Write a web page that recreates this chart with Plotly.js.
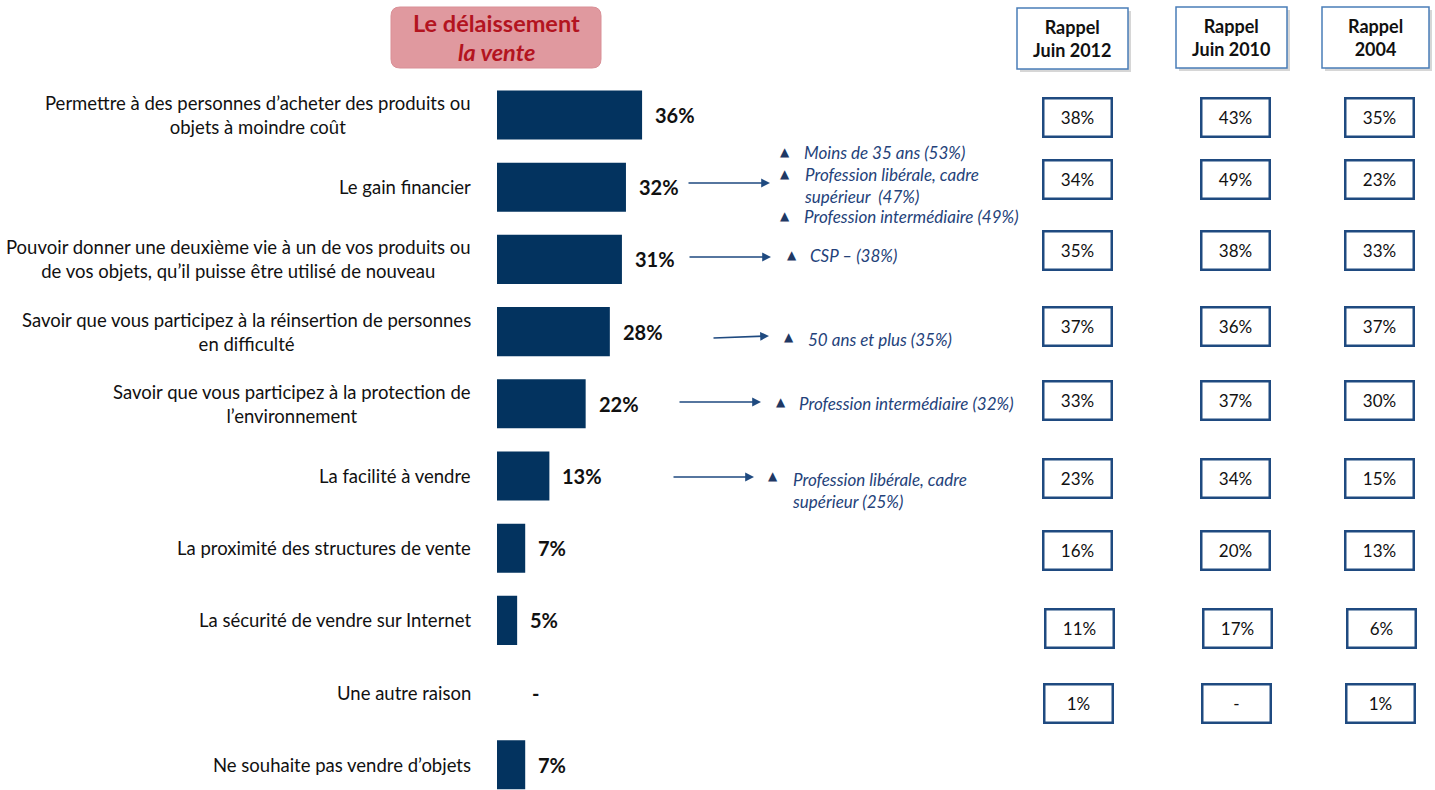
<!DOCTYPE html>
<html><head><meta charset="utf-8">
<script src="https://cdn.plot.ly/plotly-3.0.1.min.js"></script>
<style>html,body{margin:0;padding:0;background:#fff}#chart{width:1435px;height:790px}</style>
</head><body><div id="chart"></div>
<script>
// ---------- DATA ----------
const categories = [
  "Permettre à des personnes d’acheter des produits ou<br>objets à moindre coût",
  "Le gain financier",
  "Pouvoir donner une deuxième vie à un de vos produits ou<br>de vos objets, qu’il puisse être utilisé de nouveau",
  "Savoir que vous participez à la réinsertion de personnes<br>en difficulté",
  "Savoir que vous participez à la protection de<br>l’environnement",
  "La facilité à vendre",
  "La proximité des structures de vente",
  "La sécurité de vendre sur Internet",
  "Une autre raison",
  "Ne souhaite pas vendre d’objets"
];
const values = [36, 32, 31, 28, 22, 13, 7, 5, null, 7];
const valueLabels = ["36%", "32%", "31%", "28%", "22%", "13%", "7%", "5%", "-", "7%"];
const rappelHeaders = ["Rappel<br>Juin 2012", "Rappel<br>Juin 2010", "Rappel<br>2004"];
const rappel2012 = ["38%", "34%", "35%", "37%", "33%", "23%", "16%", "11%", "1%"];
const rappel2010 = ["43%", "49%", "38%", "36%", "37%", "34%", "20%", "17%", "-"];
const rappel2004 = ["35%", "23%", "33%", "37%", "30%", "15%", "13%", "6%", "1%"];
const titleLines = ["Le délaissement", "la vente"];
const noteRows = [1, 2, 3, 4, 5];
const noteTexts = [
  ["Moins de 35 ans (53%)", "Profession libérale, cadre<br>supérieur  (47%)", "Profession intermédiaire (49%)"],
  ["CSP – (38%)"],
  ["50 ans et plus (35%)"],
  ["Profession intermédiaire (32%)"],
  ["Profession libérale, cadre<br>supérieur (25%)"]
];

// ---------- LAYOUT HELPERS ----------
const W = 1435, H = 790;
const px = x => x / W;
const py = y => 1 - y / H;
const FONT = 'Lato, "Open Sans", sans-serif';
const NAVY = '#03335F';
const NOTE = '#24427A';

const annotations = [];
const shapes = [];

// category labels
categories.forEach((c, i) => {
  annotations.push({xref: 'paper', x: px(473), yref: 'y', y: c, text: c, showarrow: false,
    xanchor: 'right', yanchor: 'middle', align: 'center', font: {family: FONT, size: 18.5, color: '#111'}});
});
// value labels
values.forEach((v, i) => {
  annotations.push({xref: 'x', x: v === null ? 0 : v, yref: 'y', y: categories[i],
    text: '<b>' + valueLabels[i] + '</b>', showarrow: false, xanchor: 'left', yanchor: 'middle',
    xshift: v === null ? 33 : 11, font: {family: FONT, size: 20, color: '#111'}});
});

// title box
function rrect(x0, y0, x1, y1, r) {
  const X = px, Y = py;
  return `M${X(x0 + r)},${Y(y0)} L${X(x1 - r)},${Y(y0)} Q${X(x1)},${Y(y0)} ${X(x1)},${Y(y0 + r)} ` +
    `L${X(x1)},${Y(y1 - r)} Q${X(x1)},${Y(y1)} ${X(x1 - r)},${Y(y1)} L${X(x0 + r)},${Y(y1)} ` +
    `Q${X(x0)},${Y(y1)} ${X(x0)},${Y(y1 - r)} L${X(x0)},${Y(y0 + r)} Q${X(x0)},${Y(y0)} ${X(x0 + r)},${Y(y0)} Z`;
}
shapes.push({type: 'path', xref: 'paper', yref: 'paper', path: rrect(391, 7, 601, 68, 9),
  fillcolor: '#E0999F', line: {color: '#D98F96', width: 1}});
annotations.push({xref: 'paper', yref: 'paper', x: px(497), y: py(23), xanchor: 'center', yanchor: 'middle',
  text: '<b>' + titleLines[0] + '</b>', showarrow: false, font: {family: FONT, size: 23.5, color: '#B3141F'}});
annotations.push({xref: 'paper', yref: 'paper', x: px(497), y: py(52), xanchor: 'center', yanchor: 'middle',
  text: '<b><i>' + titleLines[1] + '</i></b>', showarrow: false, font: {family: FONT, size: 23.5, color: '#B3141F'}});

// rappel header boxes
const headBoxes = [[1017, 8, 1128, 69], [1176, 7, 1287, 68], [1322, 7, 1429, 68]];
headBoxes.forEach((b, k) => {
  shapes.push({type: 'rect', xref: 'paper', yref: 'paper', x0: px(b[0] + 3), x1: px(b[2] + 3), y0: py(b[1] + 3), y1: py(b[3] + 3),
    fillcolor: 'rgba(0,0,0,0.16)', line: {width: 0}});
  shapes.push({type: 'rect', xref: 'paper', yref: 'paper', x0: px(b[0]), x1: px(b[2]), y0: py(b[1]), y1: py(b[3]),
    fillcolor: '#fff', line: {color: '#4A7DB8', width: 1.5}});
  annotations.push({xref: 'paper', yref: 'paper', x: px((b[0] + b[2]) / 2), y: py((b[1] + b[3]) / 2),
    xanchor: 'center', yanchor: 'middle',
    text: '<b>' + rappelHeaders[k] + '</b>', showarrow: false, font: {family: FONT, size: 18, color: '#111'}});
});

// rappel value boxes
const colX = [1077, 1235, 1379];
const boxY = [117, 179, 250, 326, 400, 478, 550, 628, 703];
const boxXShift = [0, 0, 0, 0, 0, 0, 0, 2, 1];
[rappel2012, rappel2010, rappel2004].forEach((arr, k) => {
  arr.forEach((t, i) => {
    annotations.push({xref: 'paper', yref: 'paper', x: px(colX[k] + boxXShift[i]), y: py(boxY[i]), text: t,
      xanchor: 'center', yanchor: 'middle',
      showarrow: false, width: 64, height: 34, borderpad: 1, borderwidth: 2.5,
      bordercolor: '#1F4A80', bgcolor: '#fff', font: {family: FONT, size: 17, color: '#111'}});
  });
});

// arrows
const arrows = [[687, 183, 770, 183], [688, 257, 771, 257], [712, 338, 769, 336], [678, 402, 761, 402], [672, 477, 754, 477]];
arrows.forEach(a => {
  annotations.push({xref: 'paper', yref: 'paper', x: px(a[2]), y: py(a[3]), ax: a[0] - a[2], ay: a[1] - a[3],
    text: '', showarrow: true, arrowhead: 2, arrowsize: 1.1, arrowwidth: 1.6, arrowcolor: '#1F4A80', standoff: 0});
});

// notes (triangle x, text x, list of [triangle y, text center y])
const notePos = [
  {tx: 785, x: 802, ys: [[152, 152], [174, 185], [216, 216]]},
  {tx: 792, x: 808, ys: [[255, 256]]},
  {tx: 789, x: 806, ys: [[337, 339]]},
  {tx: 781, x: 797, ys: [[402, 404]]},
  {tx: 773, x: 790, ys: [[476, 490]]}
];
noteRows.forEach((r, n) => {
  noteTexts[n].forEach((t, j) => {
    const p = notePos[n];
    annotations.push({xref: 'paper', yref: 'paper', x: px(p.tx), y: py(p.ys[j][0]), text: '▲', showarrow: false,
      xanchor: 'center', yanchor: 'middle',
      font: {family: 'DejaVu Sans', size: 12, color: '#1F3864'}});
    annotations.push({xref: 'paper', yref: 'paper', x: px(p.x), y: py(p.ys[j][1]), text: '<i>' + t + '</i>',
      showarrow: false, xanchor: 'left', yanchor: 'middle', align: 'left', font: {family: FONT, size: 17, color: NOTE}});
  });
});

const trace = {
  type: 'bar', orientation: 'h', x: values, y: categories,
  marker: {color: NAVY, line: {width: 0}}, hoverinfo: 'skip'
};

const layout = {
  width: W, height: H, margin: {l: 0, r: 0, t: 0, b: 0},
  paper_bgcolor: '#fff', plot_bgcolor: 'rgba(0,0,0,0)',
  showlegend: false, bargap: 0.32,
  xaxis: {domain: [px(497), px(900)], range: [0, 100], visible: false, fixedrange: true},
  yaxis: {domain: [0, py(78.9)], type: 'category', range: [9.349, -0.5], visible: false, fixedrange: true},
  annotations: annotations, shapes: shapes
};

Plotly.newPlot('chart', [trace], layout, {displayModeBar: false, staticPlot: true});
</script>
</body></html>
